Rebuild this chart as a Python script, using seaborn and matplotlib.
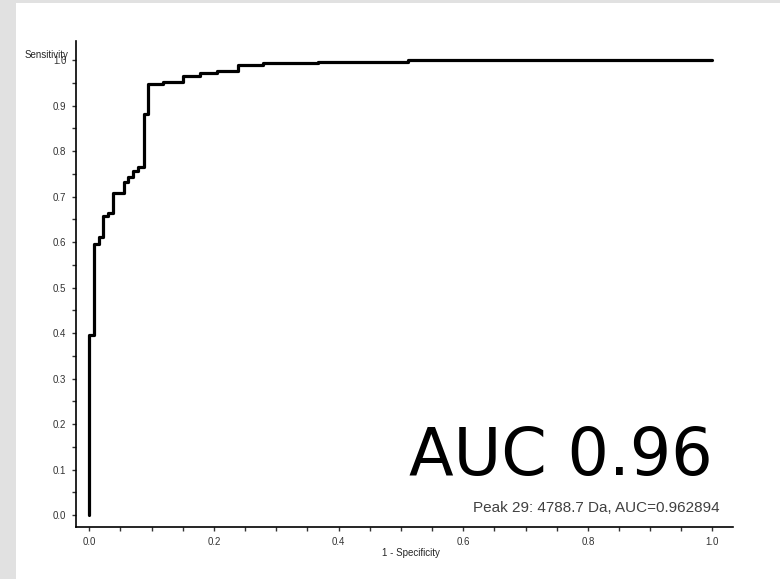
import matplotlib
matplotlib.use('Agg')
import matplotlib.pyplot as plt
import seaborn as sns
from matplotlib.patches import Rectangle
from matplotlib.ticker import MultipleLocator, FormatStrFormatter

# ROC vertices
fpr = [0.0, 0.0, 0.008, 0.008, 0.016, 0.016, 0.022, 0.022, 0.030, 0.030,
       0.038, 0.038, 0.056, 0.056, 0.062, 0.062, 0.070, 0.070, 0.078, 0.078,
       0.088, 0.088, 0.094, 0.094, 0.118, 0.118, 0.150, 0.150, 0.178, 0.178,
       0.205, 0.205, 0.239, 0.239, 0.279, 0.279, 0.367, 0.367, 0.511, 0.511, 1.0]
tpr = [0.0, 0.396, 0.396, 0.596, 0.596, 0.611, 0.611, 0.657, 0.657, 0.664,
       0.664, 0.708, 0.708, 0.732, 0.732, 0.743, 0.743, 0.756, 0.756, 0.765,
       0.765, 0.881, 0.881, 0.947, 0.947, 0.952, 0.952, 0.965, 0.965, 0.971,
       0.971, 0.976, 0.976, 0.989, 0.989, 0.993, 0.993, 0.996, 0.996, 1.0, 1.0]
auc_big = "AUC 0.96"
peak_label = "Peak 29: 4788.7 Da, AUC=0.962894"

sns.set_style('ticks')
plt.rcParams['font.family'] = ['Liberation Sans', 'DejaVu Sans']

fig = plt.figure(figsize=(7.8, 5.79), dpi=100)
fig.patch.set_facecolor('#e1e1e1')
# white panel inside the grey frame
fig.patches.append(Rectangle((16 / 780, 0), 1, 576 / 579, transform=fig.transFigure,
                             facecolor='white', edgecolor='none', zorder=-10))

ax = fig.add_axes([76 / 780, 52 / 579, 657 / 780, 486 / 579], zorder=1)
ax.set_facecolor('white')
sns.lineplot(x=fpr, y=tpr, sort=False, estimator=None, color='black', lw=2.3, ax=ax)

ax.set_xlim(-0.0214, 1.033)
ax.set_ylim(-0.026, 1.042)
sns.despine(ax=ax)
for s in ['left', 'bottom']:
    ax.spines[s].set_linewidth(1.2)
    ax.spines[s].set_color('black')

ax.xaxis.set_major_locator(MultipleLocator(0.2))
ax.xaxis.set_minor_locator(MultipleLocator(0.05))
ax.yaxis.set_major_locator(MultipleLocator(0.1))
ax.yaxis.set_minor_locator(MultipleLocator(0.05))
ax.xaxis.set_major_formatter(FormatStrFormatter('%.1f'))
ax.yaxis.set_major_formatter(FormatStrFormatter('%.1f'))
ax.tick_params(which='both', direction='out', length=3, width=1, color='#333333',
               labelsize=7, labelcolor='#333333', pad=4)

fig.text(25 / 780, 1 - 55 / 579, "Sensitivity", fontsize=7, va='center', ha='left', zorder=5)
fig.text(411 / 780, 1 - 553 / 579, "1 - Specificity", fontsize=7, va='center', ha='center')

ax.text(1.0, 0.088, auc_big, fontsize=47, ha='right', va='baseline',
        family='DejaVu Sans', color='black')
ax.text(1.012, 0.015, peak_label, fontsize=11, ha='right', va='center', color='#404040')

fig.savefig('out.png', dpi=100, facecolor=fig.get_facecolor())
